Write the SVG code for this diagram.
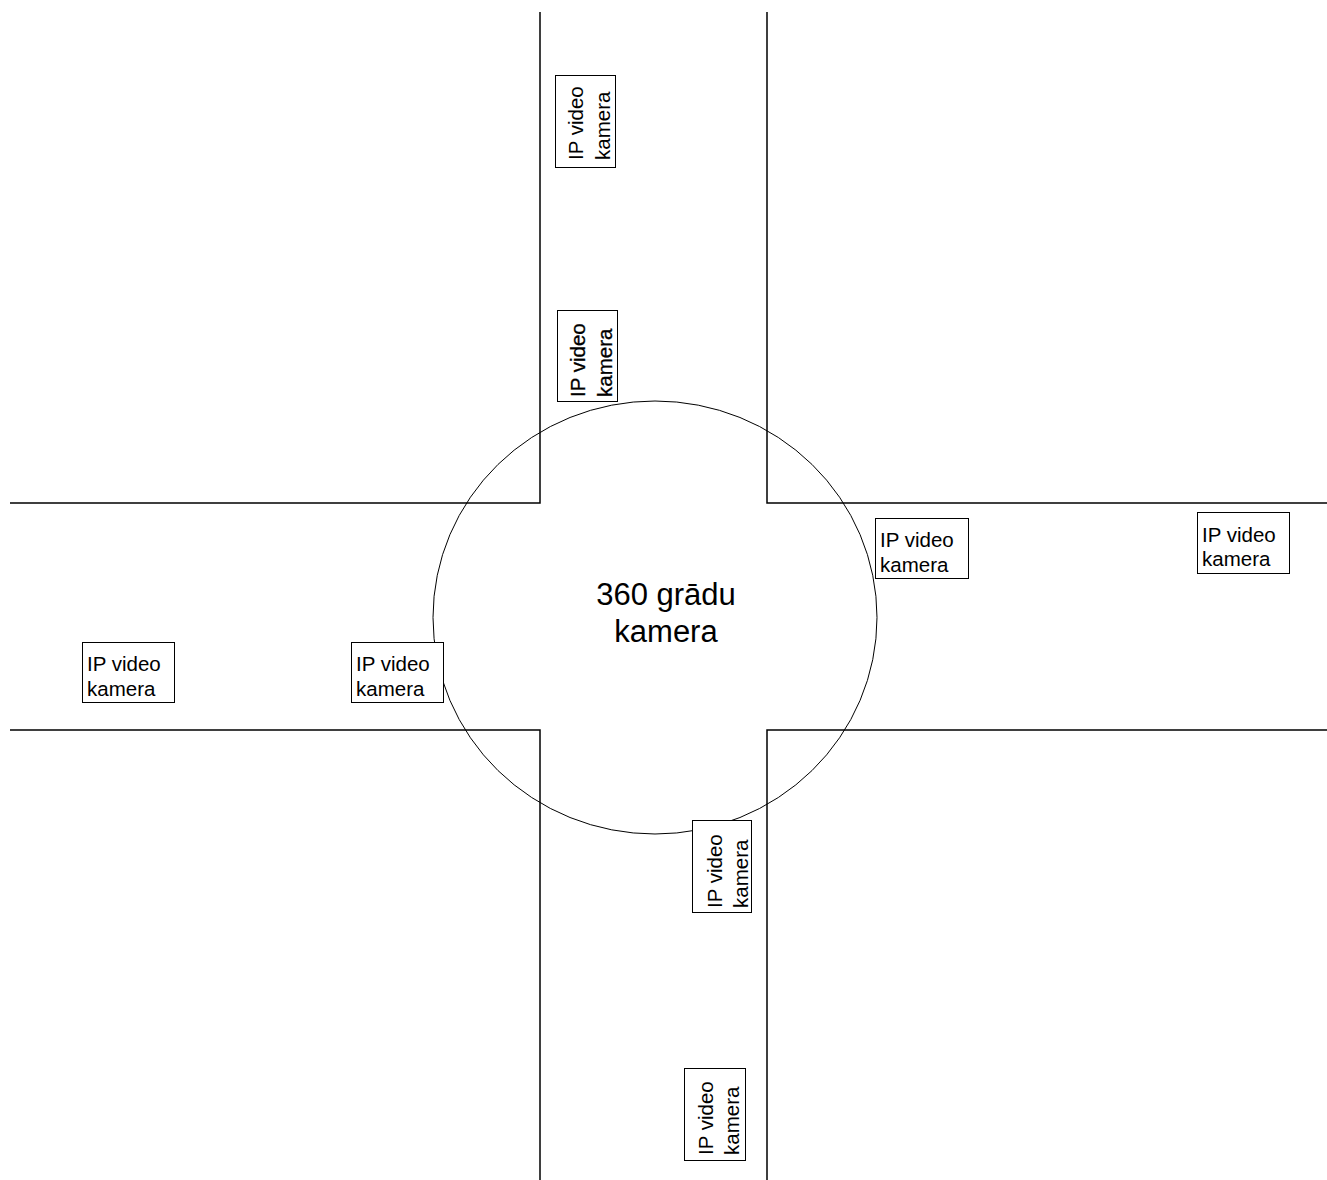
<svg xmlns="http://www.w3.org/2000/svg" width="1327" height="1180" viewBox="0 0 1327 1180">
<style>
.road{stroke:#000;stroke-width:1.5;fill:none}
.box{fill:#fff;stroke:#000;stroke-width:1}
.t{font-family:"Liberation Sans",Arial,sans-serif;font-size:20.5px;fill:#000}
.bold{stroke:#000;stroke-width:0.3}
.big{font-family:"Liberation Sans",Arial,sans-serif;font-size:31px;fill:#000;text-anchor:middle}
</style>
<rect width="1327" height="1180" fill="#fff"/>
<g id="roads">
<polyline class="road" points="540,12 540,503 10,503"/>
<polyline class="road" points="767,12 767,503 1327,503"/>
<polyline class="road" points="10,730 540,730 540,1180"/>
<polyline class="road" points="1327,730 767,730 767,1180"/>
</g>
<g id="cam360">
<ellipse cx="655" cy="617.5" rx="222" ry="216.5" fill="none" stroke="#000" stroke-width="1"/>
<text class="big" x="666" y="605">360 grādu</text>
<text class="big" x="666" y="642">kamera</text>
</g>
<g id="cam1">
<rect class="box" x="555.5" y="75.5" width="60" height="92"/>
<text class="t" transform="translate(583,160) rotate(-90)"><tspan x="0" y="0">IP video</tspan><tspan x="0" y="27">kamera</tspan></text>
</g>
<g id="cam2">
<rect class="box" x="557.5" y="310.5" width="60" height="91"/>
<text class="t bold" transform="translate(585,397) rotate(-90)"><tspan x="0" y="0">IP video</tspan><tspan x="0" y="27">kamera</tspan></text>
</g>
<g id="cam3">
<rect class="box" x="875.5" y="518.5" width="93" height="60"/>
<text class="t"><tspan x="880" y="547">IP video</tspan><tspan x="880" y="572">kamera</tspan></text>
</g>
<g id="cam4">
<rect class="box" x="1197.5" y="512.5" width="92" height="61"/>
<text class="t"><tspan x="1202" y="542">IP video</tspan><tspan x="1202" y="566">kamera</tspan></text>
</g>
<g id="cam5">
<rect class="box" x="82.5" y="642.5" width="92" height="60"/>
<text class="t"><tspan x="87" y="671">IP video</tspan><tspan x="87" y="696">kamera</tspan></text>
</g>
<g id="cam6">
<rect class="box" x="351.5" y="642.5" width="92" height="60"/>
<text class="t"><tspan x="356" y="671">IP video</tspan><tspan x="356" y="696">kamera</tspan></text>
</g>
<g id="cam7">
<rect class="box" x="692.5" y="820.5" width="59" height="92"/>
<text class="t" transform="translate(722,908) rotate(-90)"><tspan x="0" y="0">IP video</tspan><tspan x="0" y="26">kamera</tspan></text>
</g>
<g id="cam8">
<rect class="box" x="684.5" y="1068.5" width="61" height="92"/>
<text class="t" transform="translate(713,1155) rotate(-90)"><tspan x="0" y="0">IP video</tspan><tspan x="0" y="26">kamera</tspan></text>
</g>
</svg>
